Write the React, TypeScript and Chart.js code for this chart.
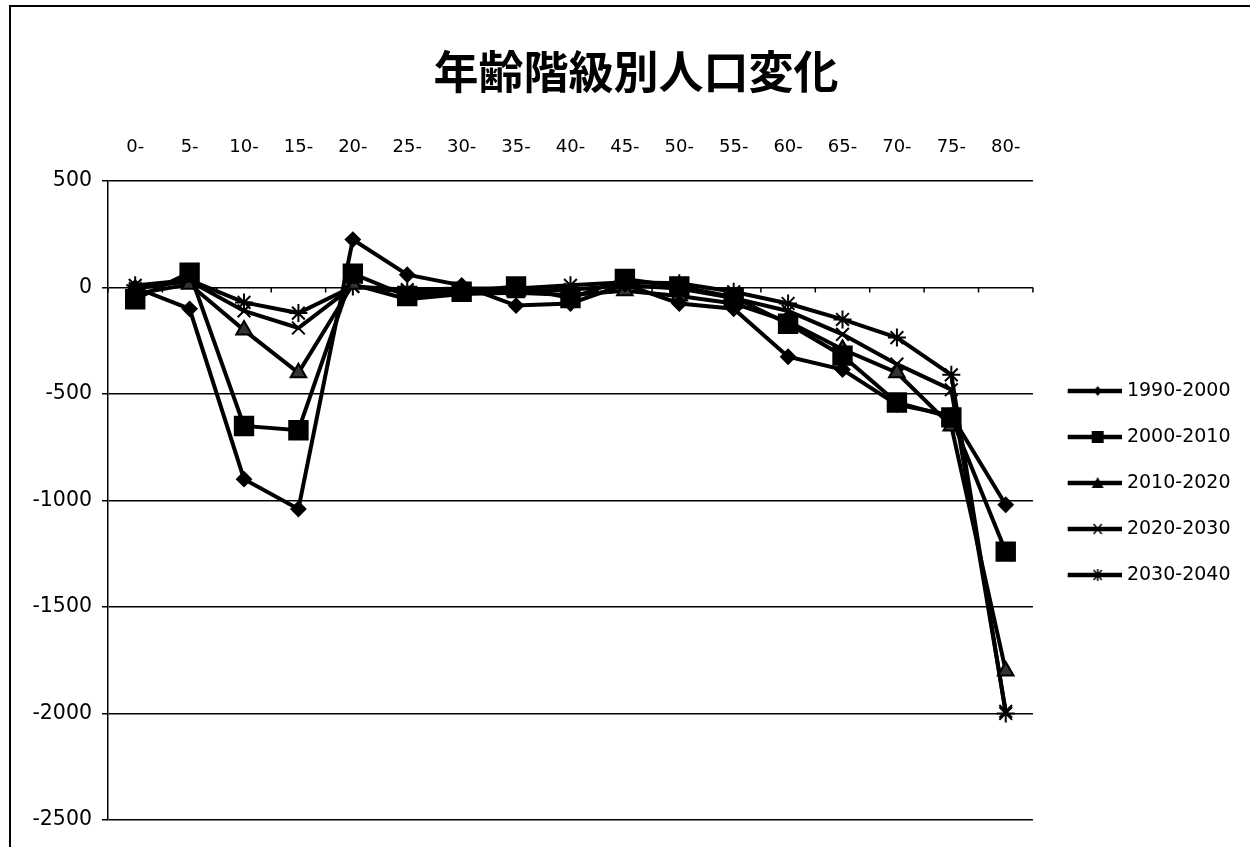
import React, { useEffect, useRef } from "react";
import { Chart, registerables } from "chart.js";

Chart.register(...registerables);

const categories = ["0-", "5-", "10-", "15-", "20-", "25-", "30-", "35-", "40-", "45-", "50-", "55-", "60-", "65-", "70-", "75-", "80-"];
const seriesLabels = ["1990-2000", "2000-2010", "2010-2020", "2020-2030", "2030-2040"];
const s1990 = [0, -100, -900, -1040, 225, 60, 10, -85, -75, 15, -75, -100, -325, -385, -550, -600, -1020];
const s2000 = [-55, 70, -650, -670, 65, -40, -20, 5, -50, 40, 5, -45, -170, -320, -540, -610, -1240];
const s2010 = [-30, 15, -200, -400, 15, -55, -30, -25, -35, -15, -40, -75, -160, -290, -400, -650, -1800];
const s2020 = [-5, 30, -110, -190, 5, -20, -10, -15, -10, 10, -5, -50, -110, -220, -360, -480, -1990];
const s2030 = [10, 35, -70, -120, 5, -10, -5, -5, 10, 25, 20, -20, -75, -150, -235, -410, -2000];
const yMin = -2500;
const yMax = 500;
const yStep = 500;
const titleText = "年齢階級別人口変化";

const NUM_FONT = "'DejaVu Sans', Verdana, sans-serif";

type MarkerKind = "diamond" | "square" | "triangle" | "cross" | "star";

function makeLegendIcon(kind: MarkerKind): HTMLCanvasElement {
  const c = document.createElement("canvas");
  c.width = 66;
  c.height = 16;
  const ctx = c.getContext("2d")!;
  ctx.strokeStyle = "#000";
  ctx.fillStyle = "#000";
  ctx.lineWidth = 4.5;
  ctx.beginPath();
  ctx.moveTo(12, 8);
  ctx.lineTo(66, 8);
  ctx.stroke();
  const cx = 42;
  const cy = 8;
  ctx.lineWidth = 1.5;
  ctx.beginPath();
  if (kind === "diamond") {
    ctx.moveTo(cx, cy - 5);
    ctx.lineTo(cx + 4, cy);
    ctx.lineTo(cx, cy + 5);
    ctx.lineTo(cx - 4, cy);
    ctx.closePath();
    ctx.fill();
  } else if (kind === "square") {
    ctx.rect(cx - 6, cy - 6, 12, 12);
    ctx.fill();
  } else if (kind === "triangle") {
    ctx.moveTo(cx, cy - 6);
    ctx.lineTo(cx + 6, cy + 5);
    ctx.lineTo(cx - 6, cy + 5);
    ctx.closePath();
    ctx.fill();
  } else if (kind === "cross") {
    ctx.moveTo(cx - 4, cy - 5);
    ctx.lineTo(cx + 4, cy + 5);
    ctx.moveTo(cx + 4, cy - 5);
    ctx.lineTo(cx - 4, cy + 5);
    ctx.stroke();
  } else {
    ctx.moveTo(cx - 4, cy - 5);
    ctx.lineTo(cx + 4, cy + 5);
    ctx.moveTo(cx + 4, cy - 5);
    ctx.lineTo(cx - 4, cy + 5);
    ctx.moveTo(cx, cy - 6);
    ctx.lineTo(cx, cy + 6);
    ctx.stroke();
  }
  return c;
}

const zeroTicksPlugin = {
  id: "zeroTicks",
  beforeDatasetsDraw(chart: any) {
    const x = chart.scales.x;
    const y = chart.scales.y;
    const ctx = chart.ctx;
    const y0 = y.getPixelForValue(0);
    ctx.save();
    ctx.strokeStyle = "#000";
    ctx.lineWidth = 1.5;
    ctx.beginPath();
    for (let i = 0; i <= categories.length; i++) {
      const px = x.getPixelForValue(i - 0.5);
      ctx.moveTo(px, y0);
      ctx.lineTo(px, y0 + 5);
    }
    ctx.stroke();
    ctx.restore();
  },
};

export default function App() {
  const canvasRef = useRef<HTMLCanvasElement | null>(null);

  useEffect(() => {
    if (!canvasRef.current) return;
    const kinds: MarkerKind[] = ["diamond", "square", "triangle", "cross", "star"];
    const icons = kinds.map((k) => makeLegendIcon(k));
    const seriesData = [s1990, s2000, s2010, s2020, s2030];
    const pointStyles = ["rectRot", "rect", "triangle", "crossRot", "star"];
    const radii = [7, 13, 9, 9, 9];
    const fills = ["#000", "#000", "#333", "#000", "#000"];

    const chart = new Chart(canvasRef.current, {
      type: "line",
      data: {
        labels: categories,
        datasets: seriesLabels.map((label, i) => ({
          label,
          data: seriesData[i],
          borderColor: "#000",
          backgroundColor: "#000",
          borderWidth: 4,
          pointStyle: pointStyles[i] as any,
          pointRadius: radii[i],
          pointBorderWidth: 2,
          pointBorderColor: "#000",
          pointBackgroundColor: fills[i],
          tension: 0,
        })),
      },
      options: {
        animation: false,
        responsive: false,
        maintainAspectRatio: false,
        layout: { padding: { left: 31.5, right: 9.5, top: 0, bottom: 27 } },
        plugins: {
          title: {
            display: true,
            text: titleText,
            color: "#000",
            font: { family: "'Noto Sans CJK JP', sans-serif", size: 45, weight: "bold" },
            padding: { top: 45, bottom: 0 },
          },
          legend: {
            display: true,
            position: "right",
            align: "start",
            fullSize: false,
            title: { display: true, text: " ", font: { size: 10 }, padding: { top: 0, bottom: 161.5 } },
            labels: {
              usePointStyle: true,
              pointStyleWidth: 57.5,
              padding: 27,
              color: "#000",
              font: { family: NUM_FONT, size: 19 },
              generateLabels: (ch: any) =>
                ch.data.datasets.map((ds: any, i: number) => ({
                  text: ds.label,
                  pointStyle: icons[i],
                  fillStyle: "#000",
                  strokeStyle: "#000",
                  fontColor: "#000",
                  lineWidth: 0,
                  hidden: false,
                  datasetIndex: i,
                })),
            },
          },
          tooltip: { enabled: false },
        },
        scales: {
          x: {
            type: "category",
            position: "top",
            offset: true,
            grid: { display: false, drawTicks: false },
            border: { display: false },
            ticks: {
              color: "#000",
              font: { family: NUM_FONT, size: 18 },
              padding: 23,
              maxRotation: 0,
              autoSkip: false,
            },
            afterFit: (scale: any) => {
              scale.height = 82;
            },
          },
          y: {
            min: yMin,
            max: yMax,
            ticks: {
              stepSize: yStep,
              color: "#000",
              font: { family: NUM_FONT, size: 20.5 },
              padding: 10,
              callback: (v: any) => String(v),
            },
            grid: { color: "#000", lineWidth: 1.5, drawTicks: true, tickLength: 6 },
            border: { display: true, color: "#000", width: 1.5 },
            afterFit: (scale: any) => {
              scale.width = 76.5;
            },
          },
        },
      },
      plugins: [zeroTicksPlugin],
    });
    return () => chart.destroy();
  }, []);

  return (
    <div style={{ position: "fixed", left: 0, top: 0, width: 1250, height: 847, background: "#fff" }}>
      <canvas ref={canvasRef} width={1250} height={847} style={{ display: "block", width: 1250, height: 847 }} />
      <div
        style={{
          position: "absolute",
          left: 9,
          top: 5,
          width: 1250,
          height: 850,
          borderLeft: "2px solid #000",
          borderTop: "2px solid #000",
          pointerEvents: "none",
        }}
      />
    </div>
  );
}
